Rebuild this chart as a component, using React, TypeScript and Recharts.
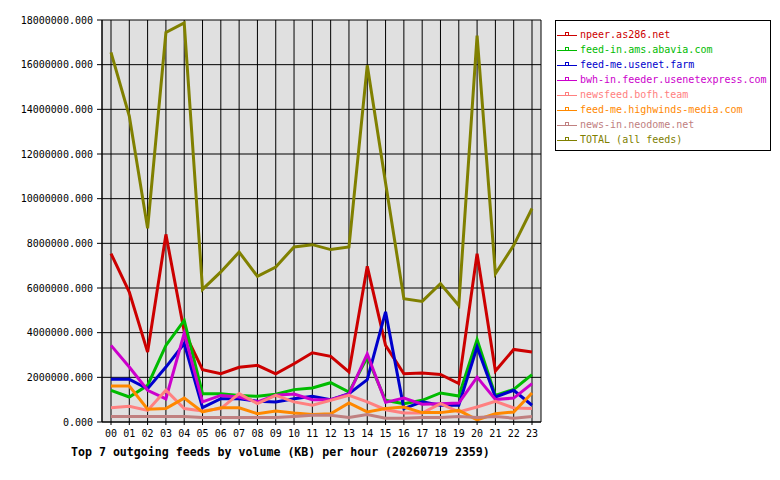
import React from 'react'
import { LineChart, Line, XAxis, YAxis, CartesianGrid, Legend } from 'recharts'

const hours = ['00', '01', '02', '03', '04', '05', '06', '07', '08', '09', '10', '11',
  '12', '13', '14', '15', '16', '17', '18', '19', '20', '21', '22', '23']

const npeer = [7540000, 5820000, 3130000, 8400000, 4050000, 2340000, 2160000, 2450000, 2540000, 2160000, 2610000, 3100000,
  2940000, 2240000, 6970000, 3430000, 2160000, 2190000, 2130000, 1720000, 7540000, 2280000, 3250000, 3130000]
const abavia = [1420000, 1120000, 1640000, 3430000, 4550000, 1270000, 1270000, 1190000, 1150000, 1240000, 1450000, 1520000,
  1760000, 1340000, 2900000, 970000, 820000, 970000, 1300000, 1160000, 3690000, 1190000, 1460000, 2120000]
const usenetFarm = [1910000, 1910000, 1490000, 2460000, 3510000, 640000, 1040000, 1040000, 930000, 900000, 1040000, 1150000,
  1000000, 1270000, 1900000, 4930000, 600000, 900000, 750000, 750000, 3360000, 1120000, 1420000, 750000]
const usenetExpress = [3430000, 2460000, 1420000, 1040000, 3980000, 900000, 1190000, 1120000, 900000, 1200000, 1250000, 1000000,
  1000000, 1250000, 3050000, 880000, 1070000, 800000, 820000, 850000, 2010000, 1010000, 1070000, 1720000]
const bofh = [640000, 700000, 520000, 1420000, 600000, 490000, 600000, 1270000, 820000, 1190000, 900000, 750000,
  970000, 1190000, 900000, 550000, 400000, 400000, 820000, 450000, 670000, 930000, 630000, 600000]
const highwinds = [1610000, 1610000, 570000, 600000, 1070000, 450000, 640000, 640000, 370000, 490000, 400000, 340000,
  370000, 850000, 450000, 600000, 670000, 420000, 420000, 520000, 100000, 370000, 450000, 1300000]
const neodome = [250000, 250000, 250000, 250000, 250000, 200000, 200000, 200000, 200000, 200000, 250000, 300000,
  300000, 200000, 330000, 170000, 170000, 200000, 200000, 250000, 200000, 250000, 170000, 250000]
const total = [16550000, 13700000, 8670000, 17440000, 17870000, 5940000, 6720000, 7610000, 6520000, 6940000, 7840000, 7940000,
  7720000, 7840000, 15970000, 10700000, 5520000, 5400000, 6190000, 5220000, 17300000, 6640000, 7910000, 9560000]

const yTicks = [0, 2000000, 4000000, 6000000, 8000000, 10000000, 12000000, 14000000, 16000000, 18000000]

const series = [
  { key: 'npeer', name: 'npeer.as286.net', color: '#cc0000', values: npeer },
  { key: 'abavia', name: 'feed-in.ams.abavia.com', color: '#00bb00', values: abavia },
  { key: 'farm', name: 'feed-me.usenet.farm', color: '#0000cc', values: usenetFarm },
  { key: 'express', name: 'bwh-in.feeder.usenetexpress.com', color: '#cc00cc', values: usenetExpress },
  { key: 'bofh', name: 'newsfeed.bofh.team', color: '#ff8080', values: bofh },
  { key: 'highwinds', name: 'feed-me.highwinds-media.com', color: '#ff8800', values: highwinds },
  { key: 'neodome', name: 'news-in.neodome.net', color: '#c08080', values: neodome },
  { key: 'total', name: 'TOTAL (all feeds)', color: '#808000', values: total },
]

const data = hours.map((h, i) => {
  const row: Record<string, string | number> = { hour: h }
  series.forEach((s) => { row[s.key] = s.values[i] })
  return row
})

const mono = '"DejaVu Sans Mono", "Liberation Mono", monospace'

function LegendBox() {
  return (
    <div style={{ border: '1px solid #000', background: '#fff', width: 216, height: 131, paddingTop: 6, boxSizing: 'border-box' }}>
      {series.map((s) => (
        <div key={s.key} style={{ display: 'flex', alignItems: 'center', height: 15, fontFamily: mono, fontSize: 10, color: s.color }}>
          <svg width={24} height={15} style={{ flex: 'none' }}>
            <line x1={1} y1={8.5} x2={21} y2={8.5} stroke={s.color} strokeWidth={1} />
            <rect x={9.5} y={5.5} width={3} height={3} fill="none" stroke={s.color} strokeWidth={1} />
          </svg>
          <span>{s.name}</span>
        </div>
      ))}
    </div>
  )
}

export default function App() {
  return (
    <div style={{ position: 'absolute', left: 0, top: 0, width: 780, height: 480, background: '#fff' }}>
      <LineChart width={780} height={480} data={data} margin={{ top: 20, right: 239, bottom: 28, left: 0 }}>
        <CartesianGrid stroke="#000" strokeDasharray="" fill="#e0e0e0" fillOpacity={1} />
        <XAxis
          dataKey="hour"
          height={30}
          interval={0}
          padding={{ left: 9, right: 9 }}
          stroke="#000"
          tickSize={3}
          tickMargin={5}
          tick={{ fill: '#000', fontFamily: mono, fontSize: 10 }}
        />
        <YAxis
          width={102}
          domain={[0, 18000000]}
          ticks={yTicks}
          stroke="#000"
          tickSize={5}
          tickMargin={4}
          tickFormatter={(v: number) => v.toFixed(3)}
          tick={{ fill: '#000', fontFamily: mono, fontSize: 10 }}
        />
        <YAxis yAxisId="edge" orientation="right" width={0} tick={false} tickLine={false} stroke="#000" />
        <Legend
          layout="vertical"
          align="center"
          verticalAlign="middle"
          content={() => <LegendBox />}
          wrapperStyle={{ left: 555, top: 20, width: 216, height: 131 }}
        />
        {series.map((s) => (
          <Line
            key={s.key}
            dataKey={s.key}
            name={s.name}
            type="linear"
            stroke={s.color}
            strokeWidth={3}
            dot={false}
            activeDot={false}
            isAnimationActive={false}
          />
        ))}
      </LineChart>
      <div style={{ position: 'absolute', left: 71, top: 445, fontFamily: mono, fontWeight: 'bold', fontSize: 11.6, lineHeight: '14px', whiteSpace: 'nowrap' }}>
        Top 7 outgoing feeds by volume (KB) per hour (20260719 2359)
      </div>
    </div>
  )
}
